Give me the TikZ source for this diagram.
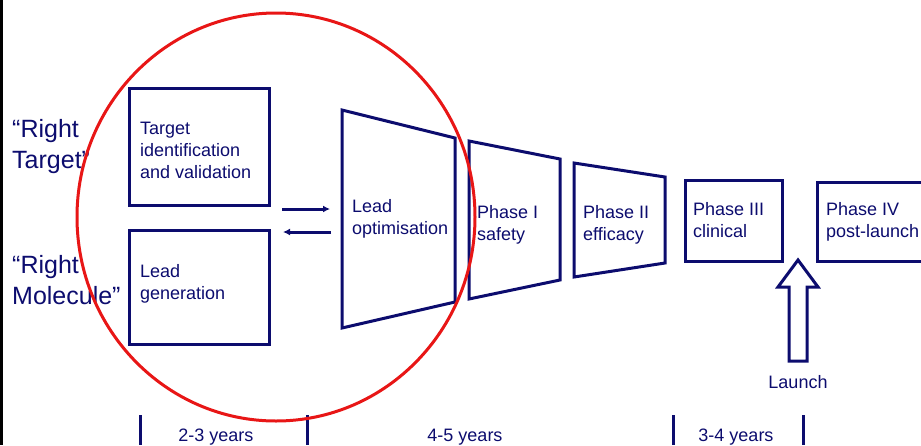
\documentclass[tikz,border=0pt]{standalone}
\usepackage{fontspec}
\setmainfont{Liberation Sans}
\usetikzlibrary{arrows.meta}
\definecolor{navy}{RGB}{12,12,110}
\definecolor{ringred}{RGB}{232,22,22}

\begin{document}
\begin{tikzpicture}[x=1pt, y=-1pt,
		box/.style = {draw=navy, line width=3pt, inner sep=0pt},
		lbl/.style = {text=navy, font=\fontsize{18}{22}\selectfont, align=left, inner sep=0pt, anchor=base west},
		big/.style = {text=navy, font=\fontsize{25}{31}\selectfont, align=left, inner sep=0pt, anchor=base west},
		flow/.style = {navy, line width=3pt, -{Latex[length=7pt,width=7pt]}},
		tick/.style = {navy, line width=3pt},
	]
	\useasboundingbox (0,0) rectangle (921,445);
	\clip (0,0) rectangle (921,445);
	\draw[line width=3pt] (1.5,0) -- (1.5,445);

	% discovery boxes (label positions are last-line baselines)
	\node[box, minimum width=140, minimum height=117] (tgt) at (199.5,147) {};
	\node[box, minimum width=140, minimum height=114] (lgen) at (199.5,287.5) {};
	\node[lbl] (tgttxt) at (140,178) {Target\\identification\\and validation};
	\node[lbl] (lgentxt) at (140,299) {Lead\\generation};
	\node[big] (rtarget) at (12,168) {“Right\\Target”};
	\node[big] (rmol) at (12,304) {“Right\\Molecule”};

	% funnel
	\coordinate (lopt west) at (342,219);
	\draw[navy, line width=3pt] (342,110) -- (455,138) -- (455,302) -- (342,328) -- cycle;
	\draw[navy, line width=3pt] (469,141) -- (560,159) -- (560,280) -- (469,299) -- cycle;
	\draw[navy, line width=3pt] (574,163) -- (665,177) -- (665,263) -- (574,277) -- cycle;
	\node[lbl] (lopt) at (352,234) {Lead\\optimisation};
	\node[lbl] (ph1) at (477,240) {Phase I\\safety};
	\node[lbl] (ph2) at (583,240) {Phase II\\efficacy};

	\draw[flow, shorten <=11pt, shorten >=12pt] ([yshift=-2pt]tgt.south east) -- ([yshift=-2pt]tgt.south east -| lopt west);
	\draw[flow, shorten <=11pt, shorten >=12pt] ([yshift=-3pt]lgen.north east -| lopt west) -- ([yshift=-3pt]lgen.north east);

	% clinical and market
	\node[box, minimum width=97, minimum height=81] (ph3box) at (734,221) {};
	\coordinate (ph4nw) at (817.5,182.5);
	\coordinate (ph4sw) at (817.5,261.5);
	\draw[navy, line width=3pt] (ph4nw) ++(130,0) -- (ph4nw) -- (ph4sw) -- ++(130,0);
	\node[lbl] (ph3) at (693,237) {Phase III\\clinical};
	\node[lbl] (ph4) at (826,237) {Phase IV\\post-launch};
	\draw[navy, line width=3pt] (789,361) -- (789,287) -- (778,287) -- (798,260) -- (818,287) -- (807,287) -- (807,361) -- cycle;
	\node[lbl, anchor=base] (launch) at (798,388) {Launch};

	% time line
	\foreach \x in {140,307,673,803}
		\draw[tick] (\x,415) -- (\x,445);
	\node[lbl, anchor=base] (t1) at (216,441) {2-3 years};
	\node[lbl, anchor=base] (t2) at (465,441) {4-5 years};
	\node[lbl, anchor=base] (t3) at (736,441) {3-4 years};

	\draw[ringred, line width=3pt] (276,217) ellipse [x radius=199, y radius=204];
\end{tikzpicture}
\end{document}
